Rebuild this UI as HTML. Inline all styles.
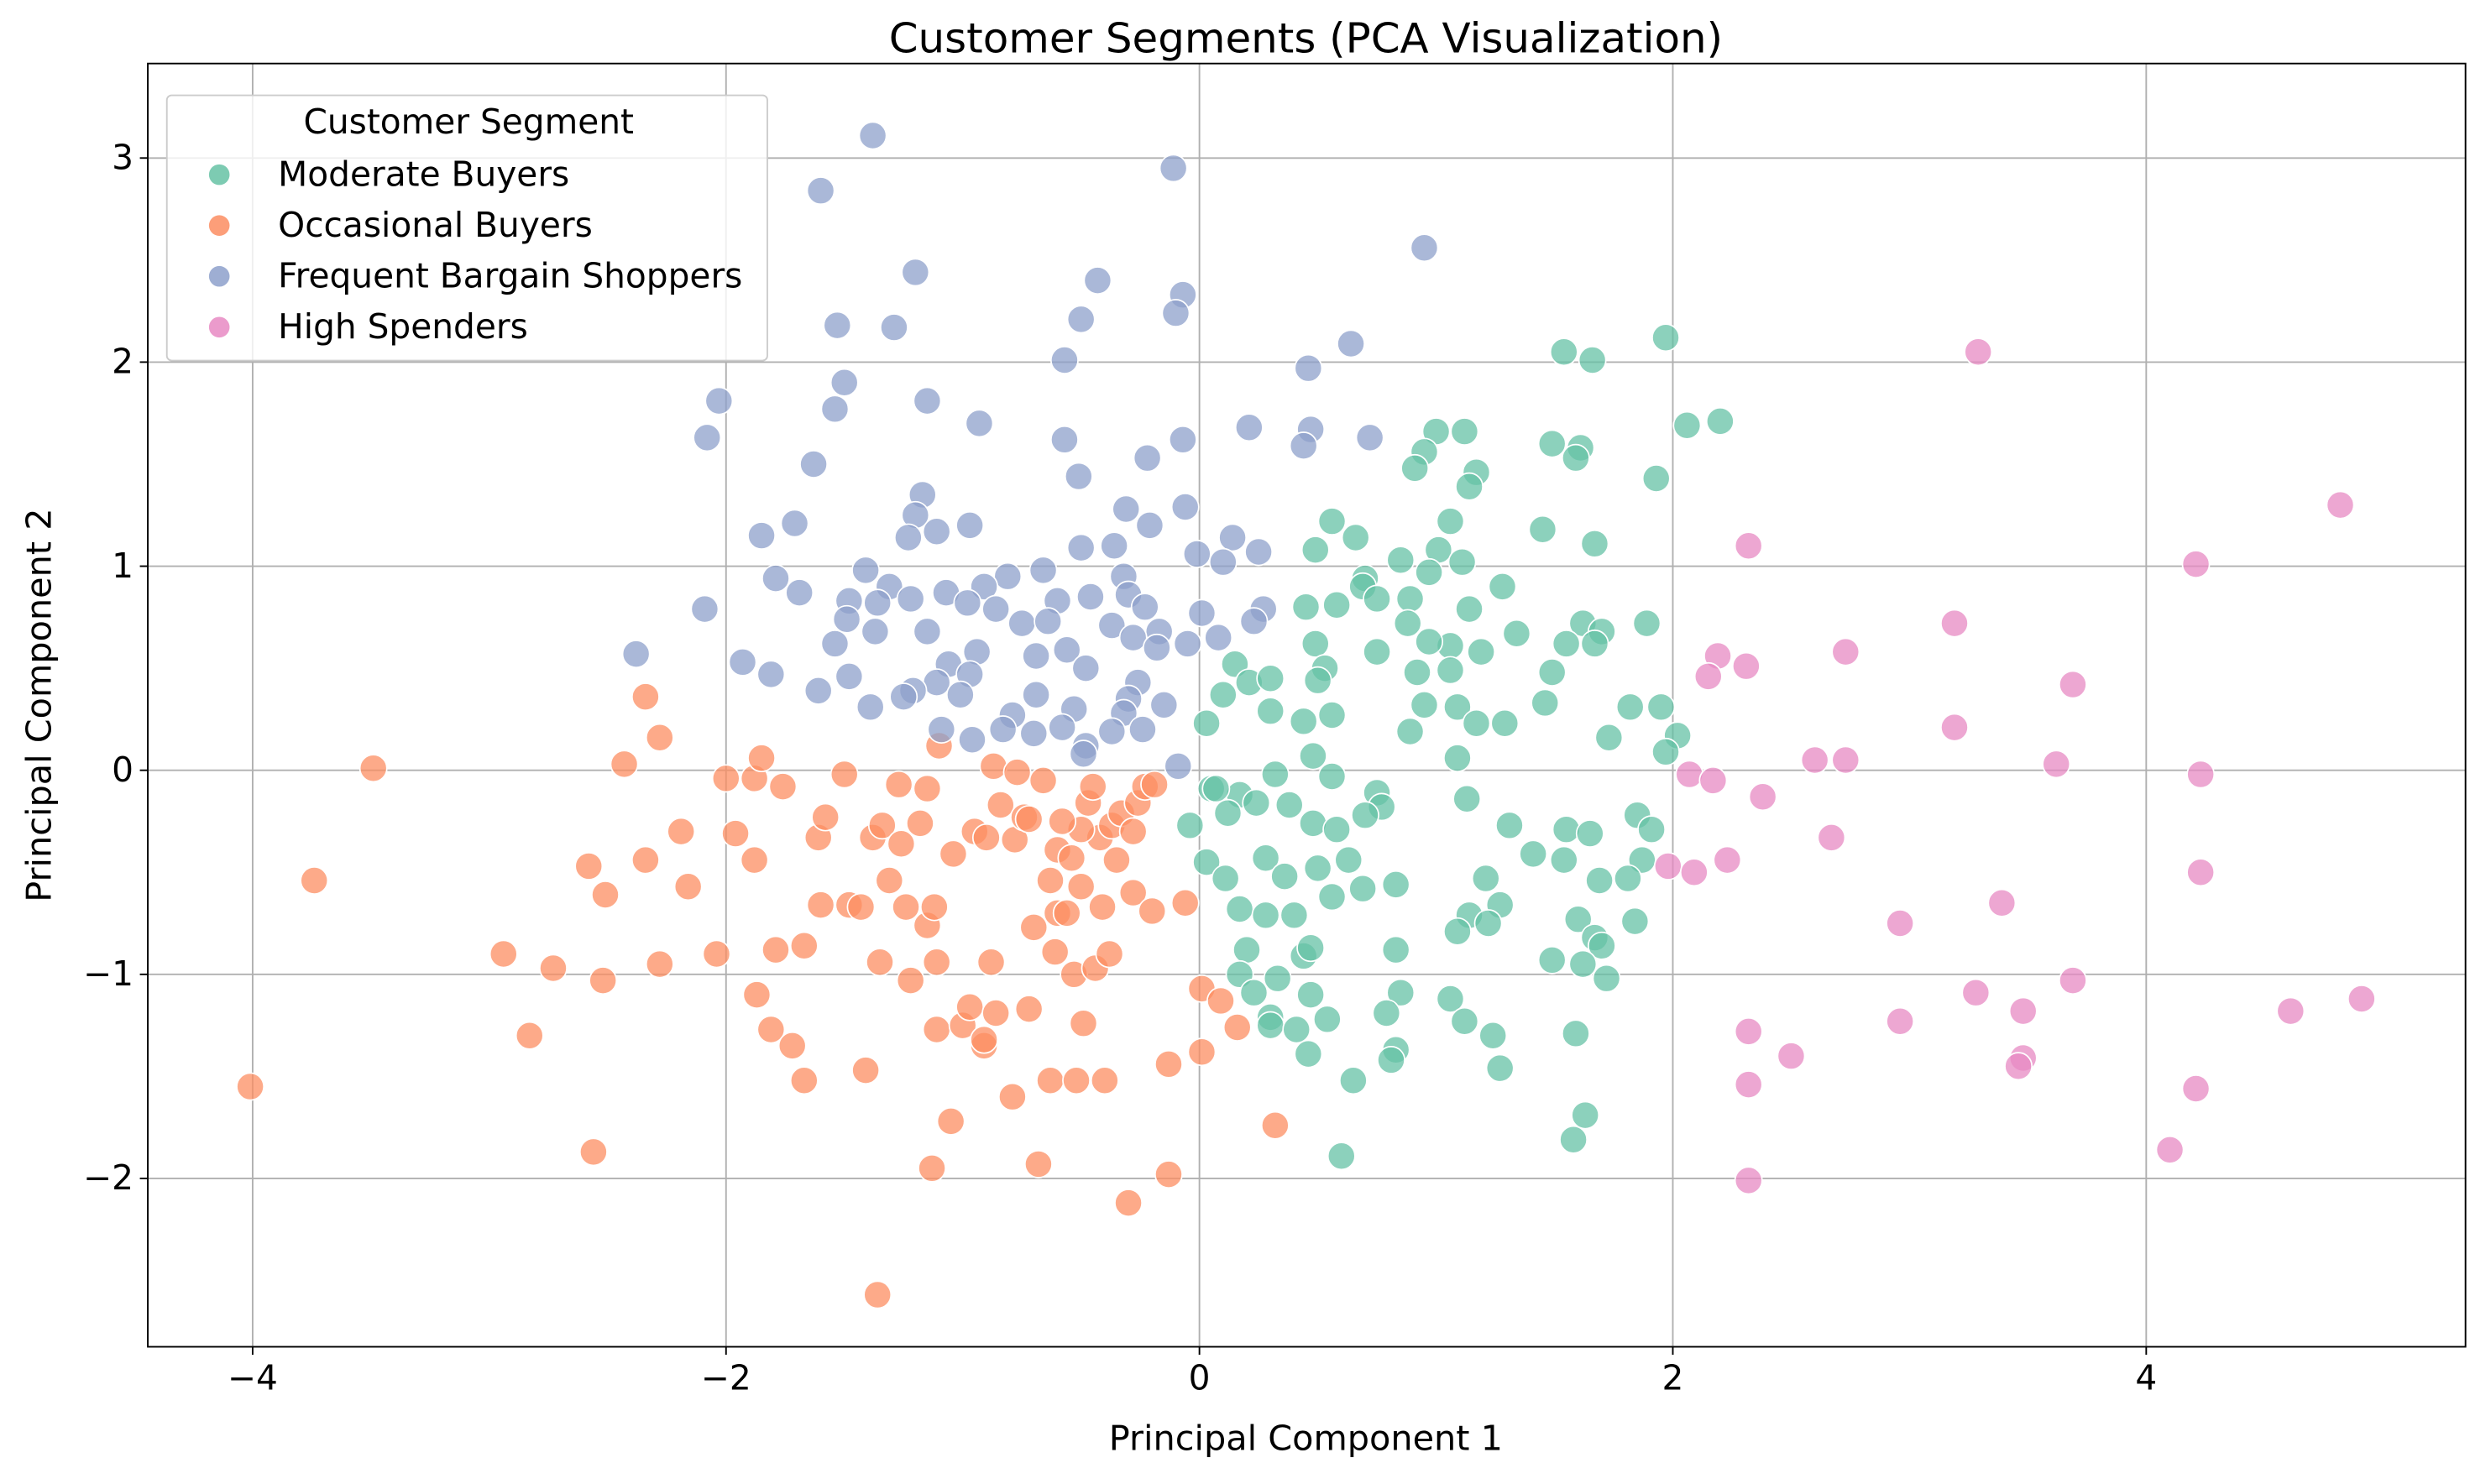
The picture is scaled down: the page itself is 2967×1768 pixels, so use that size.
<!DOCTYPE html>
<html><head><meta charset="utf-8">
<style>
html,body{margin:0;padding:0;background:#fff;}
svg{display:block;font-family:"DejaVu Sans","Liberation Sans",sans-serif;}
</style></head>
<body>
<svg id="chart" width="2967" height="1768" viewBox="0 0 1568 934.4" xmlns="http://www.w3.org/2000/svg">
<rect x="0" y="0" width="1568" height="934.4" fill="#fff"/>
<g id="grid"></g>
<g id="points"></g>
<rect x="93" y="40" width="1459" height="808" fill="none" stroke="#000" stroke-width="1"/>
<g id="ticks"></g>
<text x="822" y="33" text-anchor="middle" font-size="26" textLength="525" lengthAdjust="spacingAndGlyphs">Customer Segments (PCA Visualization)</text>
<text x="822" y="913" text-anchor="middle" font-size="21.5" textLength="248" lengthAdjust="spacingAndGlyphs">Principal Component 1</text>
<text x="0" y="0" transform="translate(32,444) rotate(-90)" text-anchor="middle" font-size="21.5" textLength="248" lengthAdjust="spacingAndGlyphs">Principal Component 2</text>
<g id="legend">
<rect x="105" y="60" width="378" height="167" rx="3" fill="#fff" fill-opacity="0.8" stroke="#ccc" stroke-width="1"/>
<text x="295" y="84" text-anchor="middle" font-size="21.5">Customer Segment</text>
</g>
</svg>
<script>
const xTicks=[-4,-2,0,2,4];
const yTicks=[-2,-1,0,1,2,3];
const segments=["Moderate Buyers","Occasional Buyers","Frequent Bargain Shoppers","High Spenders"];
const colors=["#66c2a5","#fc8d62","#8da0cb","#e78ac3"];
const moderateX=[1.97,1.54,1.66,2.20,2.06,1.0,1.12,1.49,1.61,1.59,0.95,0.91,1.17,1.93,1.14,0.56,1.06,1.45,0.66,1.01,1.67,0.49,1.11,0.85,0.70,0.97,1.28,0.69,0.75,0.89,0.45,0.58,1.14,1.62,1.89,1.34,0.88,1.70,1.67,1.55,1.19,1.06,0.97,0.49,0.53,0.75,1.49,1.06,0.92,0.50,0.15,0.21,0.30,0.10,0.03,0.44,0.95,1.09,1.29,1.46,1.82,1.95,0.56,0.30,0.89,1.17,1.73,2.02,1.97,0.48,1.09,0.32,0.56,0.05,0.17,0.38,0.75,0.77,0.70,1.13,1.31,1.55,1.65,1.85,1.91,0.24,0.12,0.48,0.58,-0.04,1.41,1.54,0.28,0.36,0.50,0.63,0.03,0.11,1.21,1.69,1.87,1.81,0.56,0.69,0.83,1.27,1.14,0.17,0.40,0.28,1.22,1.09,1.60,1.84,1.67,1.70,0.20,0.44,0.47,0.83,1.49,1.62,1.72,0.17,0.33,1.06,0.47,0.85,0.23,0.30,0.54,0.79,1.12,0.30,0.41,1.24,1.59,0.83,0.46,0.81,1.27,0.65,1.63,1.58,0.60,0.07];
const moderateY=[2.12,2.05,2.01,1.71,1.69,1.66,1.66,1.60,1.58,1.53,1.56,1.48,1.46,1.43,1.39,1.22,1.22,1.18,1.14,1.08,1.11,1.08,1.02,1.03,0.94,0.97,0.90,0.90,0.84,0.84,0.80,0.81,0.79,0.72,0.72,0.67,0.72,0.68,0.62,0.62,0.58,0.61,0.63,0.62,0.50,0.58,0.48,0.49,0.48,0.44,0.52,0.43,0.45,0.37,0.23,0.24,0.32,0.31,0.23,0.33,0.31,0.31,0.27,0.29,0.19,0.23,0.16,0.17,0.09,0.07,0.06,-0.02,-0.03,-0.09,-0.12,-0.17,-0.11,-0.18,-0.22,-0.14,-0.27,-0.29,-0.31,-0.22,-0.29,-0.16,-0.21,-0.26,-0.29,-0.27,-0.41,-0.44,-0.43,-0.52,-0.48,-0.44,-0.45,-0.53,-0.53,-0.54,-0.44,-0.53,-0.62,-0.58,-0.56,-0.66,-0.71,-0.68,-0.71,-0.71,-0.75,-0.79,-0.73,-0.74,-0.82,-0.86,-0.88,-0.91,-0.87,-0.88,-0.93,-0.95,-1.02,-1.0,-1.02,-1.12,-1.10,-1.09,-1.09,-1.21,-1.22,-1.19,-1.23,-1.25,-1.27,-1.30,-1.29,-1.37,-1.39,-1.42,-1.46,-1.52,-1.69,-1.81,-1.89,-0.09];
const occasionalX=[-4.01,-3.74,-3.49,-2.94,-2.83,-2.73,-2.56,-2.58,-2.52,-2.51,-2.43,-2.34,-2.34,-2.28,-2.28,-2.19,-2.16,-2.04,-2.0,-1.96,-1.88,-1.88,-1.87,-1.85,-1.81,-1.79,-1.76,-1.72,-1.67,-1.67,-1.61,-1.60,-1.58,-1.50,-1.48,-1.43,-1.41,-1.38,-1.36,-1.35,-1.34,-1.31,-1.27,-1.26,-1.24,-1.22,-1.18,-1.15,-1.15,-1.13,-1.12,-1.11,-1.11,-1.10,-1.05,-1.04,-1.0,-0.97,-0.95,-0.91,-0.91,-0.90,-0.88,-0.87,-0.86,-0.84,-0.79,-0.78,-0.77,-0.74,-0.72,-0.70,-0.68,-0.66,-0.63,-0.63,-0.61,-0.60,-0.60,-0.56,-0.54,-0.53,-0.52,-0.50,-0.49,-0.47,-0.45,-0.44,-0.42,-0.41,-0.40,-0.38,-0.37,-0.35,-0.33,-0.30,-0.28,-0.28,-0.26,-0.23,-0.20,-0.19,-0.13,-0.13,-0.06,0.01,0.01,0.09,0.16,0.32,-0.50,-0.58,-0.72];
const occasionalY=[-1.55,-0.54,0.01,-0.90,-1.30,-0.97,-1.87,-0.47,-1.03,-0.61,0.03,0.36,-0.44,0.16,-0.95,-0.30,-0.57,-0.90,-0.04,-0.31,-0.04,-0.44,-1.10,0.06,-1.27,-0.88,-0.08,-1.35,-1.52,-0.86,-0.33,-0.66,-0.23,-0.02,-0.66,-0.67,-1.47,-0.33,-2.57,-0.94,-0.27,-0.54,-0.07,-0.36,-0.67,-1.03,-0.26,-0.09,-0.76,-1.95,-0.67,-1.27,-0.94,0.12,-1.72,-0.41,-1.25,-1.16,-0.30,-1.35,-1.32,-0.33,-0.94,0.02,-1.19,-0.17,-1.60,-0.34,-0.01,-0.23,-1.17,-0.77,-1.93,-0.05,-0.54,-1.52,-0.89,-0.70,-0.39,-0.70,-0.43,-1.0,-1.52,-0.57,-1.24,-0.16,-0.08,-0.97,-0.33,-0.67,-1.52,-0.90,-0.27,-0.44,-0.21,-2.12,-0.30,-0.60,-0.16,-0.08,-0.69,-0.07,-1.44,-1.98,-0.65,-1.07,-1.38,-1.13,-1.26,-1.74,-0.29,-0.25,-0.24];
const frequentX=[-1.38,-0.11,-1.60,0.95,-1.20,-0.43,-0.07,-0.10,-0.50,-1.53,-1.29,0.64,0.46,-0.57,-1.50,-2.03,-1.15,-1.54,-2.08,-0.93,0.21,0.47,-0.07,-0.57,0.72,0.44,-1.63,-0.22,-0.51,-1.17,-1.71,-1.20,-0.31,-0.06,-1.85,-1.11,-0.97,-0.21,-1.23,0.14,-0.36,-0.50,0.25,-0.01,0.10,-1.79,-1.41,-0.66,-0.81,-0.32,-1.69,-1.31,-0.91,-1.07,-1.22,-0.60,-0.46,-0.30,-1.48,-1.36,-0.98,-0.23,0.27,-2.09,0.01,-0.86,-1.49,-0.75,-0.64,0.23,-1.37,-1.15,-0.37,-0.17,0.08,-0.28,-0.05,-1.54,-0.18,-2.38,-0.56,-0.94,-0.69,-1.06,-1.93,-0.48,-0.97,-1.11,-0.26,-1.81,-1.48,-1.21,-1.01,-1.61,-1.39,-1.25,-0.69,-0.53,-0.30,-0.15,-0.79,-0.32,-1.09,-0.83,-0.70,-0.58,-0.37,-0.24,-0.96,-0.48,-0.09,-0.49];
const frequentY=[3.11,2.95,2.84,2.56,2.44,2.40,2.33,2.24,2.21,2.18,2.17,2.09,1.97,2.01,1.90,1.81,1.81,1.77,1.63,1.70,1.68,1.67,1.62,1.62,1.63,1.59,1.50,1.53,1.44,1.35,1.21,1.25,1.28,1.29,1.15,1.17,1.20,1.20,1.14,1.14,1.10,1.09,1.07,1.06,1.02,0.94,0.98,0.98,0.95,0.95,0.87,0.90,0.90,0.87,0.84,0.83,0.85,0.86,0.83,0.82,0.82,0.80,0.79,0.79,0.77,0.79,0.74,0.72,0.73,0.73,0.68,0.68,0.71,0.68,0.65,0.65,0.62,0.62,0.60,0.57,0.59,0.58,0.56,0.52,0.53,0.50,0.47,0.43,0.43,0.47,0.46,0.39,0.37,0.39,0.31,0.36,0.37,0.30,0.35,0.32,0.27,0.28,0.20,0.20,0.18,0.21,0.19,0.20,0.15,0.12,0.02,0.08];
const highX=[3.29,4.82,4.21,2.32,3.19,2.73,2.19,2.31,2.15,3.69,3.19,2.60,2.73,3.62,4.23,2.07,2.17,2.38,2.67,1.98,2.09,2.23,4.23,3.39,2.96,3.69,3.28,3.48,4.61,4.91,2.96,2.32,2.50,3.48,3.46,2.32,4.21,4.10,2.32];
const highY=[2.05,1.30,1.01,1.10,0.72,0.58,0.56,0.51,0.46,0.42,0.21,0.05,0.05,0.03,-0.02,-0.02,-0.05,-0.13,-0.33,-0.47,-0.50,-0.44,-0.50,-0.65,-0.75,-1.03,-1.09,-1.18,-1.18,-1.12,-1.23,-1.28,-1.40,-1.41,-1.45,-1.54,-1.56,-1.86,-2.01];
const seriesX=[moderateX,occasionalX,frequentX,highX];
const seriesY=[moderateY,occasionalY,frequentY,highY];

const NS="http://www.w3.org/2000/svg";
const L=93,R=1552,T=40,B=848;
function sx(v){return 755+v*149;}
function sy(v){return 485-v*128.5;}
function mk(tag,attrs,parent){const e=document.createElementNS(NS,tag);for(const k in attrs)e.setAttribute(k,attrs[k]);parent.appendChild(e);return e;}
const fmt=v=>(v<0?"\u2212"+Math.abs(v):String(v));
const grid=document.getElementById('grid'),ticks=document.getElementById('ticks');
xTicks.forEach(v=>{
  const g=mk('line',{x1:sx(v),x2:sx(v),y1:T,y2:B,stroke:'#b0b0b0','stroke-width':1},grid);
  
  
  const t=mk('line',{x1:sx(v),x2:sx(v),y1:B,y2:B+5,stroke:'#000','stroke-width':1},ticks);
  
  
  const lb=mk('text',{x:sx(v),y:B+27,'text-anchor':'middle','font-size':21.5},ticks);
  lb.textContent=fmt(v);
  
  
});
yTicks.forEach(v=>{
  const g=mk('line',{x1:L,x2:R,y1:sy(v),y2:sy(v),stroke:'#b0b0b0','stroke-width':1},grid);
  
  
  const t=mk('line',{x1:L-5,x2:L,y1:sy(v),y2:sy(v),stroke:'#000','stroke-width':1},ticks);
  
  
  const lb=mk('text',{x:L-9,y:sy(v)+7,'text-anchor':'end','font-size':21.5},ticks);
  lb.textContent=fmt(v);
  
  
});
const pts=document.getElementById('points');
seriesX.forEach((xs,s)=>{
  xs.forEach((x,i)=>{
    const c=mk('circle',{cx:sx(x),cy:sy(seriesY[s][i]),r:8.5,fill:colors[s],'fill-opacity':0.75,stroke:'#fff','stroke-width':0.9},pts);
    
    
  });
});
const leg=document.getElementById('legend');
segments.forEach((name,i)=>{
  const y=110+i*32;
  const c=mk('circle',{cx:138,cy:y,r:6.5,fill:colors[i],'fill-opacity':0.85},leg);
  
  
  const t=mk('text',{x:175,y:y+7,'font-size':21.5},leg);
  t.textContent=name;
  
  
});
</script>
</body></html>
